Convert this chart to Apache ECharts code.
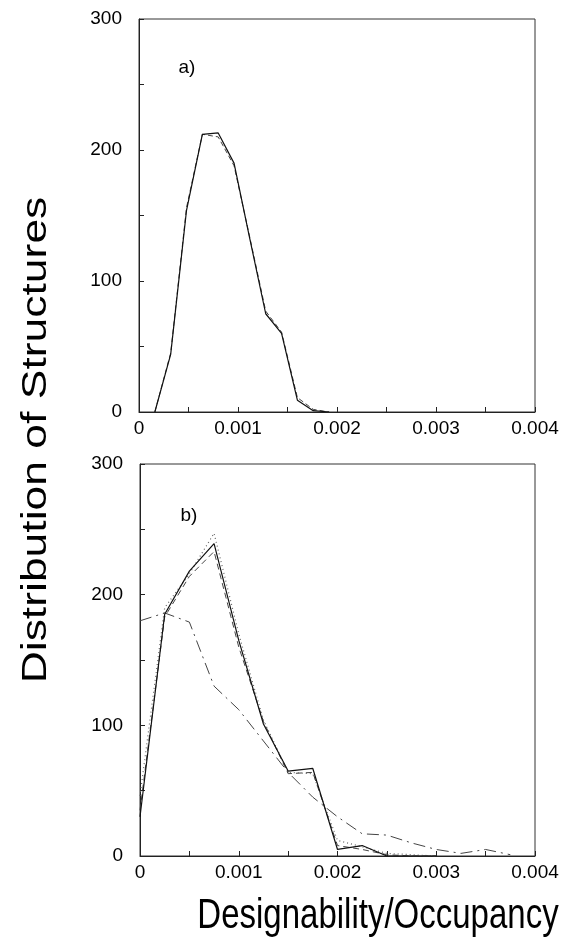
<!DOCTYPE html>
<html>
<head>
<meta charset="utf-8">
<script src="https://cdn.jsdelivr.net/npm/echarts@6/dist/echarts.min.js"></script>
<style>html,body{margin:0;padding:0;background:#fff}#c{width:562px;height:942px}</style>
</head>
<body>
<div id="c"></div>
<script>
// Panel a
const xA = [0.00016,0.00032,0.00048,0.00064,0.0008,0.00096,0.00112,0.00128,0.00144,0.0016,0.00176,0.00192];
const aSolid  = [0,44,154,212,213,190,132,75,60,9,1,0];
const aDashed = [0,45,156,212,210,188,133,77,61,11,2,0];
// Panel b
const xB = [0,0.00025,0.0005,0.00075,0.001,0.00125,0.0015,0.00175,0.002,0.00225,0.0025,0.00275,0.003,0.00325,0.0035,0.00375];
const bSolid   = [30,185,218,239,165,101,65,67,5,8,0,0,0,null,null,null];
const bDashed  = [35,183,214,233,160,103,63,64,8,5,1,0,0,null,null,null];
const bDotted  = [46,190,216,247,170,104,64,63,12,7,2,1,0,null,null,null];
const bDashDot = [180,186,179,130,112,88,64,45,30,17,16,10,5,2,5,1];
const yTicks = [0,100,200,300];
const xTicks = [0,0.001,0.002,0.003,0.004];

const pair = (xs, ys) => xs.map((x,i)=>[x, ys[i]]).filter(p=>p[1]!==null);
const font = 'Liberation Sans, Arial, Helvetica, sans-serif';

function xAxis(gi){
  return {gridIndex:gi, type:'value', min:0, max:0.004, interval:0.0005,
    axisLine:{show:true,onZero:false,lineStyle:{color:'#222',width:1}},
    axisTick:{show:true,inside:true,length:5,lineStyle:{color:'#222'}},
    splitLine:{show:false},
    axisLabel:{margin:7,color:'#000',fontSize:19,fontFamily:font,
      formatter:v=>{const m=xTicks.find(t=>Math.abs(t-v)<1e-9);return m===undefined?'':(m===0?'0':m.toFixed(3));}}};
}
function yAxis(gi){
  return {gridIndex:gi, type:'value', min:0, max:300, interval:50,
    axisLine:{show:true,onZero:false,lineStyle:{color:'#222',width:1}},
    axisTick:{show:true,inside:true,length:5,lineStyle:{color:'#222'}},
    splitLine:{show:false},
    axisLabel:{margin:17,color:'#000',fontSize:19,fontFamily:font,padding:[0,0,8,0],
      formatter:v=>yTicks.includes(v)?String(v):''}};
}
function line(xi, data, type, color, width){
  return {type:'line', xAxisIndex:xi, yAxisIndex:xi, data:data, symbol:'none', silent:true,
    lineStyle:{color:color,width:width,type:type}, z:type==='solid'?3:2};
}
const chart = echarts.init(document.getElementById('c'), null, {renderer:'canvas'});
chart.setOption({
  animation:false,
  backgroundColor:'#fff',
  grid:[
    {left:139, top:19, width:396, height:393, show:true, borderColor:'#333', borderWidth:1, backgroundColor:'transparent'},
    {left:140, top:464, width:395, height:392, show:true, borderColor:'#333', borderWidth:1, backgroundColor:'transparent'}
  ],
  xAxis:[xAxis(0), xAxis(1)],
  yAxis:[yAxis(0), yAxis(1)],
  series:[
    line(0, pair(xA,aSolid), 'solid', '#111', 1.2),
    line(0, pair(xA,aDashed), [5,3], '#444', 1),
    line(1, pair(xB,bSolid), 'solid', '#111', 1.2),
    line(1, pair(xB,bDashed), [6,4], '#444', 1),
    line(1, pair(xB,bDotted), [1,3], '#666', 1.2),
    line(1, pair(xB,bDashDot), [12,5,2,5], '#444', 1)
  ],
  graphic:[
    {type:'text', x:187, y:68, style:{text:'a)', font:'19px '+font, fill:'#000', align:'center', verticalAlign:'middle'}},
    {type:'text', x:189, y:516, style:{text:'b)', font:'19px '+font, fill:'#000', align:'center', verticalAlign:'middle'}},
    {type:'text', x:36, y:440, rotation:Math.PI/2, scaleX:1.27, style:{text:'Distribution of Structures', font:'35px '+font, fill:'#000', align:'center', verticalAlign:'middle'}},
    {type:'text', x:378, y:916, scaleY:1.27, style:{text:'Designability/Occupancy', font:'33px '+font, fill:'#000', align:'center', verticalAlign:'middle'}}
  ]
});
</script>
</body>
</html>
